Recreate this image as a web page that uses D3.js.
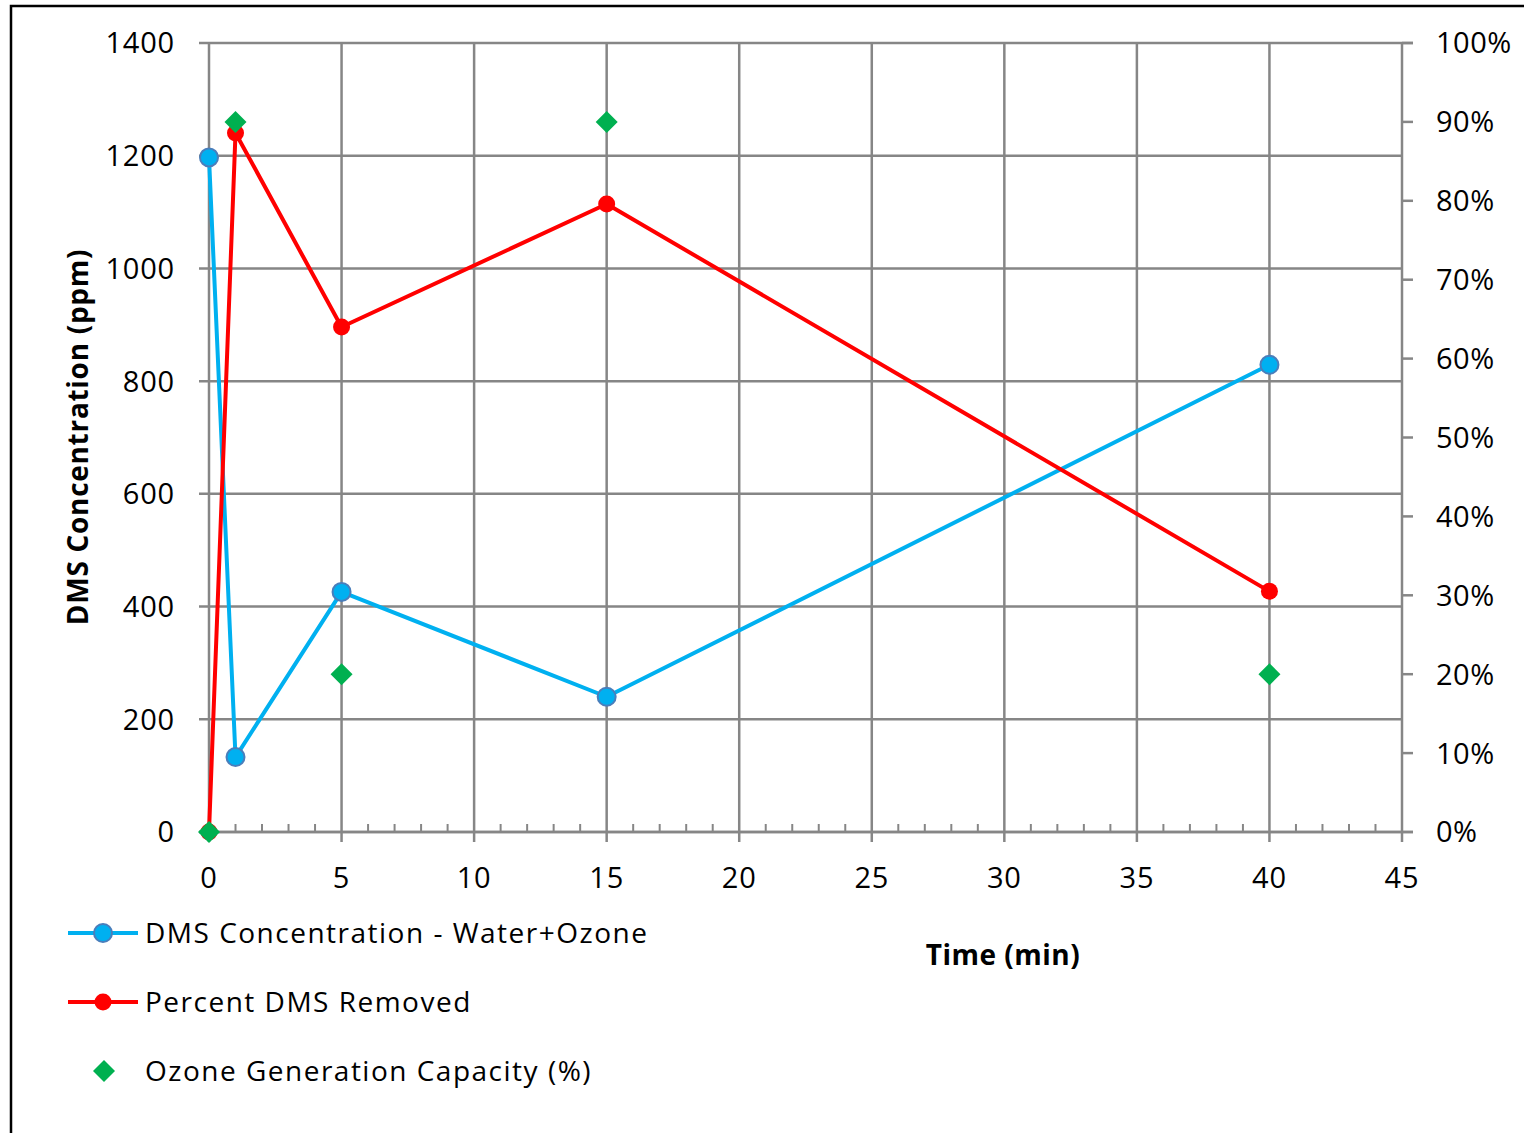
<!DOCTYPE html>
<html><head><meta charset="utf-8">
<script src="https://cdn.jsdelivr.net/npm/d3@7"></script>
<style>body{margin:0;background:#fff}svg{display:block}</style>
</head><body>
<script>
const times = [0, 1, 5, 15, 40];
const dmsConc = [1197, 133, 426, 240, 829];
const pctRemoved = [0, 0.886, 0.64, 0.796, 0.305];
const ozoneCap = [0, 0.9, 0.2, 0.9, 0.2];
const xTicks = [0,5,10,15,20,25,30,35,40,45];
const yTicks = [0,200,400,600,800,1000,1200,1400];
const y2Ticks = [0,0.1,0.2,0.3,0.4,0.5,0.6,0.7,0.8,0.9,1.0];
const legendLabels = ["DMS Concentration - Water+Ozone","Percent DMS Removed","Ozone Generation Capacity (%)"];

const W=1524,H=1133;
const svg=d3.select("body").append("svg").attr("width",W).attr("height",H);
const font="'Open Sans', 'Liberation Sans', sans-serif";
const grid="#868686";

svg.append("path").attr("d",`M11,${H+5}V6H${W+5}`).attr("fill","none").attr("stroke","#000").attr("stroke-width",2.5);

const x=d3.scaleLinear().domain([0,45]).range([209,1402]);
const y=d3.scaleLinear().domain([0,1400]).range([832,43]);
const y2=d3.scaleLinear().domain([0,1]).range([832,43]);

// horizontal gridlines
svg.append("g").selectAll("line").data(yTicks).join("line")
 .attr("x1",199).attr("x2",d=>d===1400?1413:1402).attr("y1",d=>y(d)).attr("y2",d=>y(d))
 .attr("stroke",grid).attr("stroke-width",2.5);
// vertical gridlines
svg.append("g").selectAll("line").data(xTicks).join("line")
 .attr("x1",d=>x(d)).attr("x2",d=>x(d)).attr("y1",43).attr("y2",842)
 .attr("stroke",grid).attr("stroke-width",2.5);
// x axis line
svg.append("line").attr("x1",199).attr("x2",1413).attr("y1",y(0)).attr("y2",y(0)).attr("stroke",grid).attr("stroke-width",2.5);
// minor ticks
const minor=d3.range(0,46).filter(d=>d%5!==0);
svg.append("g").selectAll("line").data(minor).join("line")
 .attr("x1",d=>x(d)).attr("x2",d=>x(d)).attr("y1",832).attr("y2",824)
 .attr("stroke",grid).attr("stroke-width",2);
// right axis ticks
svg.append("g").selectAll("line").data(y2Ticks).join("line")
 .attr("x1",1402).attr("x2",1413).attr("y1",d=>y2(d)).attr("y2",d=>y2(d))
 .attr("stroke",grid).attr("stroke-width",2.5);

// tick labels
const fs=29;
svg.append("g").selectAll("text").data(yTicks).join("text")
 .attr("x",175).attr("y",d=>y(d)).attr("dy","0.36em").attr("text-anchor","end")
 .attr("font-family",font).attr("font-size",fs).attr("letter-spacing","0.8px").text(d=>d);
svg.append("g").selectAll("text").data(xTicks).join("text")
 .attr("x",d=>x(d)).attr("y",878).attr("dy","0.36em").attr("text-anchor","middle")
 .attr("font-family",font).attr("font-size",fs).attr("letter-spacing","0.8px").text(d=>d);
svg.append("g").selectAll("text").data(y2Ticks).join("text")
 .attr("x",1436).attr("y",d=>y2(d)).attr("dy","0.36em").attr("text-anchor","start")
 .attr("font-family",font).attr("font-size",fs).attr("letter-spacing","0.5px").text(d=>d3.format(".0%")(d));

// axis titles
svg.append("text").attr("transform","translate(88,437) rotate(-90)").attr("text-anchor","middle")
 .attr("font-family",font).attr("font-weight","bold").attr("font-size",28).attr("letter-spacing","0.7px").text("DMS Concentration (ppm)");
svg.append("text").attr("x",1003).attr("y",955).attr("dy","0.36em").attr("text-anchor","middle")
 .attr("font-family",font).attr("font-weight","bold").attr("font-size",28).attr("letter-spacing","0.5px").text("Time (min)");

const blue="#00b0f0", red="#ff0000", green="#00b050";
const pts=times.map((t,i)=>({t,c:dmsConc[i],p:pctRemoved[i],o:ozoneCap[i]}));
// blue series
svg.append("path").datum(pts).attr("d",d3.line().x(d=>x(d.t)).y(d=>y(d.c)))
 .attr("fill","none").attr("stroke",blue).attr("stroke-width",4).attr("stroke-linejoin","round");
svg.append("g").selectAll("circle").data(pts).join("circle")
 .attr("cx",d=>x(d.t)).attr("cy",d=>y(d.c)).attr("r",9).attr("fill",blue).attr("stroke","#4a7ebb").attr("stroke-width",2);
// red series
svg.append("path").datum(pts).attr("d",d3.line().x(d=>x(d.t)).y(d=>y2(d.p)))
 .attr("fill","none").attr("stroke",red).attr("stroke-width",4).attr("stroke-linejoin","round");
svg.append("g").selectAll("circle").data(pts).join("circle")
 .attr("cx",d=>x(d.t)).attr("cy",d=>y2(d.p)).attr("r",8.5).attr("fill",red);
// green diamonds
const diamond=(cx,cy,s)=>`M${cx},${cy-s}L${cx+s},${cy}L${cx},${cy+s}L${cx-s},${cy}Z`;
svg.append("g").selectAll("path").data(pts).join("path")
 .attr("d",d=>diamond(x(d.t),y2(d.o),11)).attr("fill",green);

// legend
const ly=[933,1002,1071];
const lg=svg.append("g");
lg.append("line").attr("x1",68).attr("x2",138).attr("y1",ly[0]).attr("y2",ly[0]).attr("stroke",blue).attr("stroke-width",4);
lg.append("circle").attr("cx",103).attr("cy",ly[0]).attr("r",9).attr("fill",blue).attr("stroke","#4a7ebb").attr("stroke-width",2);
lg.append("line").attr("x1",68).attr("x2",138).attr("y1",ly[1]).attr("y2",ly[1]).attr("stroke",red).attr("stroke-width",4);
lg.append("circle").attr("cx",103).attr("cy",ly[1]).attr("r",8.5).attr("fill",red);
lg.append("path").attr("d",diamond(104,ly[2],11)).attr("fill",green);
lg.selectAll("text").data(legendLabels).join("text")
 .attr("x",145).attr("y",(d,i)=>ly[i]).attr("dy","0.36em")
 .attr("font-family",font).attr("font-size",28).attr("letter-spacing","1.5px").text(d=>d);
</script>
</body></html>
